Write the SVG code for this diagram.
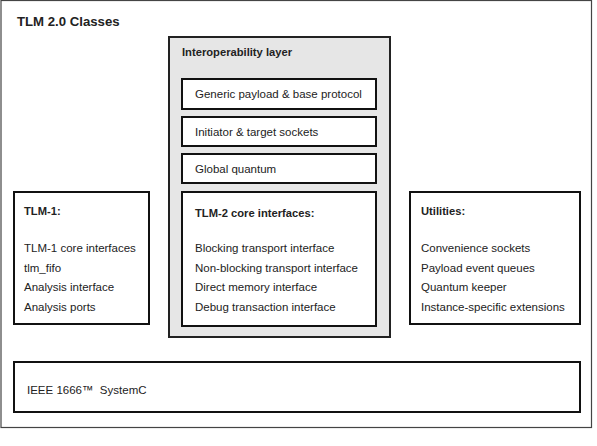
<svg xmlns="http://www.w3.org/2000/svg" width="597" height="446" viewBox="0 0 597 446">
<style>
text{font-family:"Liberation Sans",Arial,sans-serif;font-size:11.5px;fill:#222}
.b{font-weight:bold;font-size:11.2px}
.box{fill:#fff;stroke:#111;stroke-width:2}
.layer{fill:#e6e6e6;stroke:#222;stroke-width:2}
.frame{fill:#fff;stroke:#444;stroke-width:1.2}
</style>
<rect width="597" height="446" fill="#fff"/>
<g id="frame">
<rect class="frame" x="1" y="0.5" width="590.5" height="427"/>
<text class="b" x="17" y="26" style="font-size:13.2px">TLM 2.0 Classes</text>
</g>
<g id="interop">
<rect class="layer" x="169" y="37" width="221" height="300"/>
<text class="b" x="182" y="56">Interoperability layer</text>
</g>
<g id="payload">
<rect class="box" x="182" y="79" width="194" height="30"/>
<text x="195" y="98">Generic payload &amp; base protocol</text>
</g>
<g id="sockets">
<rect class="box" x="182" y="117" width="194" height="29"/>
<text x="195" y="136">Initiator &amp; target sockets</text>
</g>
<g id="quantum">
<rect class="box" x="182" y="154" width="194" height="29"/>
<text x="195" y="173">Global quantum</text>
</g>
<g id="tlm2">
<rect class="box" x="182" y="192" width="194" height="134"/>
<text class="b" x="195" y="217">TLM-2 core interfaces:</text>
<text x="195" y="252">Blocking transport interface</text>
<text x="195" y="272">Non-blocking transport interface</text>
<text x="195" y="291">Direct memory interface</text>
<text x="195" y="311">Debug transaction interface</text>
</g>
<g id="tlm1">
<rect class="box" x="14" y="192" width="135" height="132"/>
<text class="b" x="24" y="215">TLM-1:</text>
<text x="24" y="252">TLM-1 core interfaces</text>
<text x="24" y="272">tlm_fifo</text>
<text x="24" y="291">Analysis interface</text>
<text x="24" y="311">Analysis ports</text>
</g>
<g id="utilities">
<rect class="box" x="410" y="192" width="170" height="132"/>
<text class="b" x="421" y="215">Utilities:</text>
<text x="421" y="252">Convenience sockets</text>
<text x="421" y="272">Payload event queues</text>
<text x="421" y="291">Quantum keeper</text>
<text x="421" y="311">Instance-specific extensions</text>
</g>
<g id="systemc">
<rect class="box" x="14" y="362" width="566" height="50"/>
<text x="27" y="394">IEEE 1666™&#160; SystemC</text>
</g>
<g id="connectors"/>
</svg>
